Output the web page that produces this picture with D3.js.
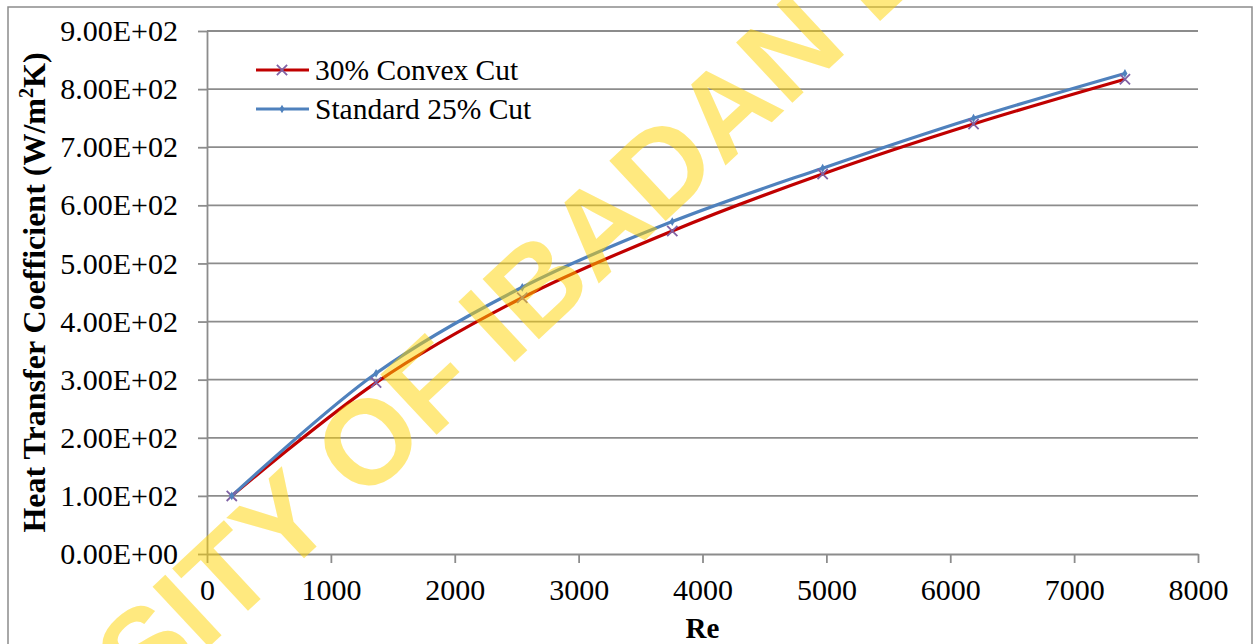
<!DOCTYPE html>
<html lang="en">
<head>
    <meta charset="UTF-8">
    <title>Heat Transfer Coefficient vs Re</title>
    <style>
        body, html {
            margin: 0;
            padding: 0;
            background-color: #ffffff;
            overflow: hidden;
        }

        svg {
            font-family: "Liberation Serif", "Times New Roman", serif;
        }

        .grid line {
            stroke: #8c8c8c;
            stroke-width: 1.8px;
        }

        .axis path, .axis line {
            stroke: #8c8c8c;
            stroke-width: 1.8px;
        }

        .axis text {
            font-family: "Liberation Serif", "Times New Roman", serif;
            font-size: 30px;
            fill: #000;
        }

        .legend text {
            font-size: 29.5px;
            fill: #000;
        }

        .title {
            font-weight: bold;
            fill: #000;
        }
    </style>
</head>
<body>
    <div id="chart"></div>

    <script src="https://d3js.org/d3.v7.min.js"></script>

    <script>
        // values
        const reynolds = [200, 1365, 2545, 3756, 4970, 6188, 7410];
        const convexCut = [100, 295, 441, 556, 654, 740, 817];
        const standardCut = [100, 311, 459, 572, 664, 750, 827];

        const xTicks = [0, 1000, 2000, 3000, 4000, 5000, 6000, 7000, 8000];
        const yTicks = [0, 100, 200, 300, 400, 500, 600, 700, 800, 900];

        const seriesNames = ['30% Convex Cut', 'Standard 25% Cut'];

        const width = 1256;
        const height = 644;
        const margin = { top: 31, right: 58, bottom: 90, left: 207 };

        const svg = d3.select('#chart').append('svg')
            .attr('width', width)
            .attr('height', height);

        // outer chart frame
        svg.append('rect')
            .attr('x', 8)
            .attr('y', 7)
            .attr('width', 1244)
            .attr('height', 660)
            .attr('fill', 'none')
            .attr('stroke', '#8c8c8c')
            .attr('stroke-width', 1.5);

        const x = d3.scaleLinear()
            .domain([0, 8000])
            .range([margin.left, width - margin.right]);

        const y = d3.scaleLinear()
            .domain([0, 900])
            .range([height - margin.bottom, margin.top]);

        // horizontal gridlines
        svg.append('g')
            .attr('class', 'grid')
            .selectAll('line')
            .data(yTicks.filter(d => d > 0))
            .enter().append('line')
            .attr('x1', x(0))
            .attr('x2', x(8000))
            .attr('y1', d => y(d))
            .attr('y2', d => y(d));

        // x axis
        const xAxis = svg.append('g')
            .attr('class', 'axis')
            .attr('transform', `translate(0,${y(0)})`)
            .call(d3.axisBottom(x).tickValues(xTicks).tickSize(9).tickSizeOuter(0).tickPadding(16)
                .tickFormat(d3.format('d')));
        xAxis.attr('font-family', null).attr('font-size', null);
        xAxis.selectAll('text').attr('dy', '0.71em');

        // y axis
        const yAxis = svg.append('g')
            .attr('class', 'axis')
            .attr('transform', `translate(${x(0)},0)`)
            .call(d3.axisLeft(y).tickValues(yTicks).tickSize(9).tickSizeOuter(0).tickPadding(20)
                .tickFormat(d => d.toExponential(2).replace('e+', 'E+0').toUpperCase()));
        yAxis.attr('font-family', null).attr('font-size', null);

        // axis titles
        svg.append('text')
            .attr('class', 'title')
            .attr('x', x(4000))
            .attr('y', 638)
            .attr('text-anchor', 'middle')
            .attr('font-size', 29)
            .text('Re');

        const yTitle = svg.append('text')
            .attr('class', 'title')
            .attr('transform', `translate(45,${(y(0) + y(900)) / 2}) rotate(-90)`)
            .attr('text-anchor', 'middle')
            .attr('font-size', 32);
        yTitle.append('tspan').text('Heat Transfer Coefficient (W/m');
        yTitle.append('tspan').attr('font-size', 20).attr('dy', -12).text('2');
        yTitle.append('tspan').attr('dy', 12).text('K)');

        const line = d3.line()
            .x((d, i) => x(reynolds[i]))
            .y(d => y(d))
            .curve(d3.curveCatmullRom.alpha(0.5));

        svg.append('path')
            .datum(convexCut)
            .attr('fill', 'none')
            .attr('stroke', '#c00000')
            .attr('stroke-width', 3.2)
            .attr('d', line);

        svg.append('path')
            .datum(standardCut)
            .attr('fill', 'none')
            .attr('stroke', '#4f81bd')
            .attr('stroke-width', 3.2)
            .attr('d', line);

        // markers
        const cross = d3.symbol().type(d3.symbolX).size(70);
        svg.append('g').selectAll('path')
            .data(convexCut)
            .enter().append('path')
            .attr('transform', (d, i) => `translate(${x(reynolds[i])},${y(d)})`)
            .attr('d', cross)
            .attr('fill', 'none')
            .attr('stroke', '#7f62a5')
            .attr('stroke-width', 1.8);

        const diamond = d3.symbol().type(d3.symbolDiamond).size(22);
        svg.append('g').selectAll('path')
            .data(standardCut)
            .enter().append('path')
            .attr('transform', (d, i) => `translate(${x(reynolds[i])},${y(d)})`)
            .attr('d', diamond)
            .attr('fill', '#4f81bd');

        // legend
        const legend = svg.append('g').attr('class', 'legend');
        const legendColors = ['#c00000', '#4f81bd'];
        seriesNames.forEach((name, i) => {
            const ly = 70 + i * 39;
            legend.append('line')
                .attr('x1', 256).attr('x2', 309)
                .attr('y1', ly).attr('y2', ly)
                .attr('stroke', legendColors[i])
                .attr('stroke-width', 3.2);
            if (i === 0) {
                legend.append('path')
                    .attr('transform', `translate(282,${ly})`)
                    .attr('d', cross)
                    .attr('fill', 'none')
                    .attr('stroke', '#7f62a5')
                    .attr('stroke-width', 1.8);
            } else {
                legend.append('path')
                    .attr('transform', `translate(282,${ly})`)
                    .attr('d', diamond)
                    .attr('fill', '#4f81bd');
            }
            legend.append('text')
                .attr('x', 315)
                .attr('y', ly + 10)
                .text(name);
        });

        // library watermark
        svg.append('text')
            .attr('transform', 'translate(537,341) rotate(-43)')
            .attr('text-anchor', 'middle')
            .attr('font-family', '"Liberation Sans", Arial, sans-serif')
            .attr('font-weight', 'bold')
            .attr('font-size', 120)
            .attr('fill', '#ffd400')
            .attr('fill-opacity', 0.5)
            .text('UNIVERSITY OF IBADAN LIBRARY');
    </script>
</body>
</html>
